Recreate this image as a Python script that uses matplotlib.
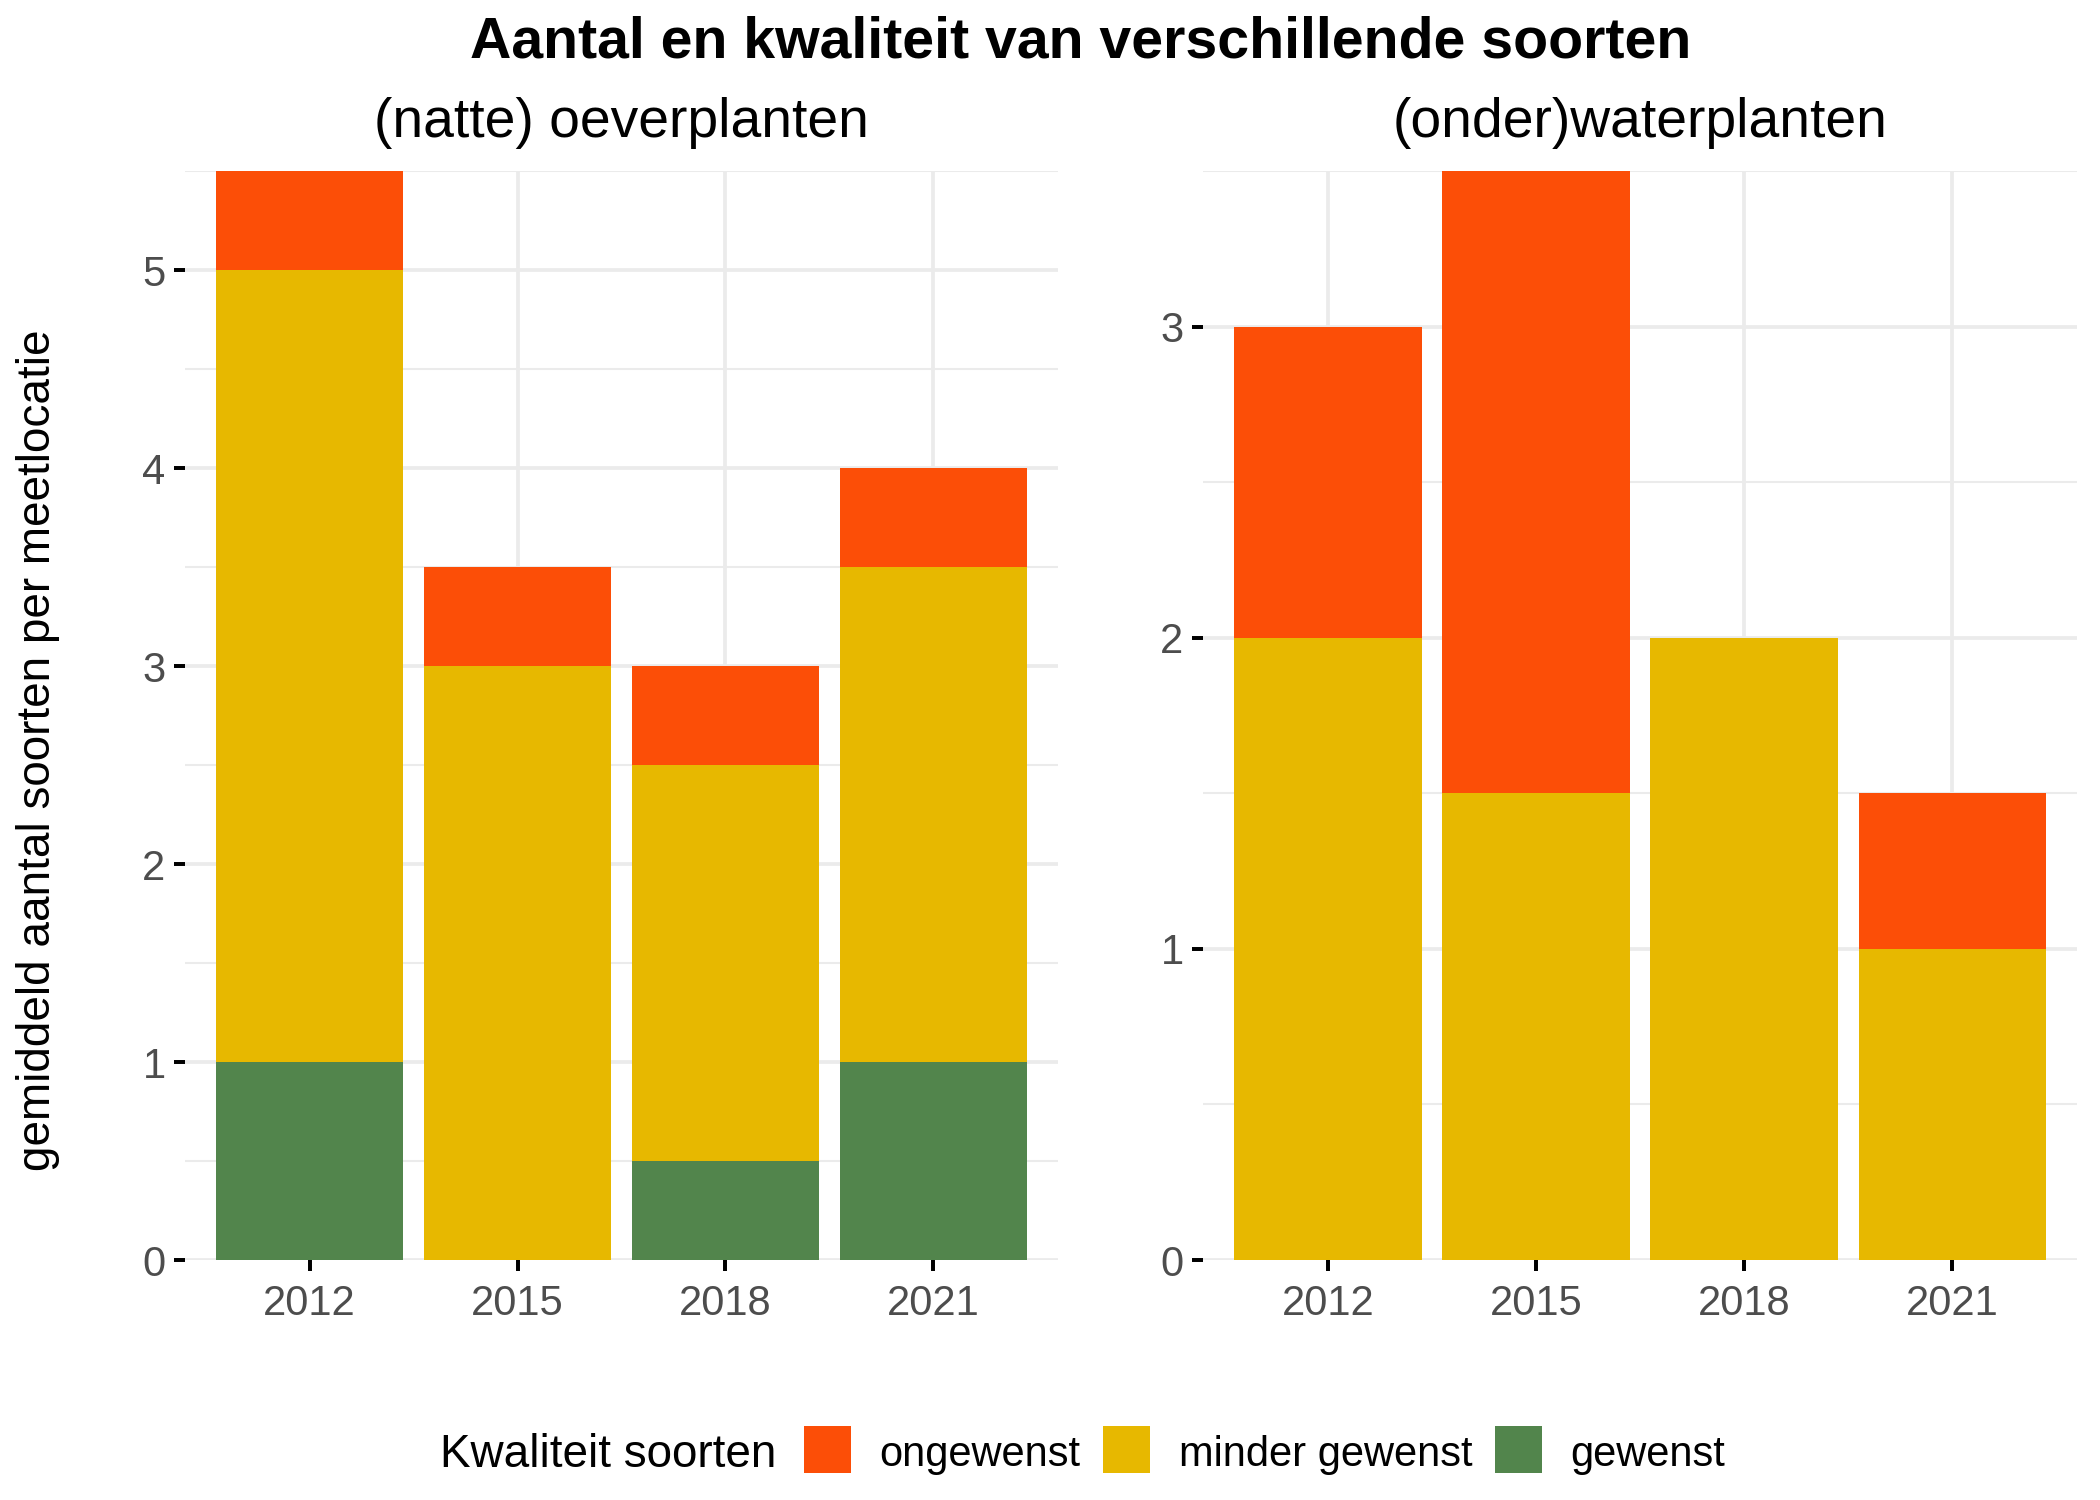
import matplotlib.pyplot as plt
import numpy as np
from matplotlib.patches import Rectangle

plt.rcParams['font.family'] = ['Liberation Sans', 'DejaVu Sans']

# data
years = ['2012', '2015', '2018', '2021']
categories = ['ongewenst', 'minder gewenst', 'gewenst']
colors = {'ongewenst': '#FC4E07', 'minder gewenst': '#E7B800', 'gewenst': '#52854C'}

panels = ['(natte) oeverplanten', '(onder)waterplanten']

oever_gewenst = [1.0, 0.0, 0.5, 1.0]
oever_minder = [4.0, 3.0, 2.0, 2.5]
oever_ongewenst = [0.5, 0.5, 0.5, 0.5]

water_gewenst = [0.0, 0.0, 0.0, 0.0]
water_minder = [2.0, 1.5, 2.0, 1.0]
water_ongewenst = [1.0, 2.0, 0.0, 0.5]

panel_data = [
    {'gewenst': oever_gewenst, 'minder gewenst': oever_minder, 'ongewenst': oever_ongewenst},
    {'gewenst': water_gewenst, 'minder gewenst': water_minder, 'ongewenst': water_ongewenst},
]

W, H = 2100, 1500
fig = plt.figure(figsize=(14, 10), dpi=150)

def fx(px):
    return px / W

def fy(py):
    return 1 - py / H

# axes positions in pixels (left, right, top, bottom)
boxes = [(185, 1058, 171, 1260), (1203, 2077, 171, 1260)]

grid_col = '#EBEBEB'

for i, (name, data) in enumerate(zip(panels, panel_data)):
    l, r, t, b = boxes[i]
    ax = fig.add_axes([fx(l), fy(b), (r - l) / W, (b - t) / H])
    x = np.arange(len(years))
    bottom = np.zeros(len(years))
    for cat in ['gewenst', 'minder gewenst', 'ongewenst']:
        vals = np.array(data[cat])
        ax.bar(x, vals, bottom=bottom, width=0.9, color=colors[cat], linewidth=0)
        bottom = bottom + vals
    top = bottom.max()
    ax.set_xlim(-0.6, len(years) - 0.4)
    ax.set_ylim(0, top)
    ax.set_xticks(x)
    ax.set_xticklabels(years)
    ax.set_yticks(np.arange(0, top + 0.01, 1))
    ax.set_yticks(np.arange(0.5, top + 0.01, 1), minor=True)
    ax.set_axisbelow(True)
    ax.grid(which='major', color=grid_col, linewidth=1.8)
    ax.grid(which='minor', axis='y', color=grid_col, linewidth=1.0)
    for s in ax.spines.values():
        s.set_visible(False)
    ax.tick_params(which='major', length=5.3, width=1.9, color='black',
                   labelcolor='#4D4D4D', labelsize=20, pad=4)
    ax.tick_params(axis='x', which='major', pad=6)
    ax.tick_params(which='minor', length=0)
    fig.text(fx((l + r) / 2), fy(137), name, ha='center', va='baseline', fontsize=26.5)

fig.text(fx(1081), fy(57), 'Aantal en kwaliteit van verschillende soorten',
         ha='center', va='baseline', fontsize=27.5, fontweight='bold')

fig.text(fx(38), fy(750), 'gemiddeld aantal soorten per meetlocatie',
         rotation=90, ha='center', va='center', fontsize=22)

# legend
fig.text(fx(440), fy(1467), 'Kwaliteit soorten', ha='left', va='baseline', fontsize=22)
key_x = [804, 1103, 1495]
label_x = [879, 1179, 1570]
for cat, kx, lx in zip(categories, key_x, label_x):
    fig.patches.append(Rectangle((fx(kx), fy(1473)), 47 / W, 47 / H,
                                 transform=fig.transFigure, facecolor=colors[cat],
                                 edgecolor='none'))
    fig.text(fx(lx), fy(1466), cat, ha='left', va='baseline', fontsize=20)

fig.savefig('out.png', dpi=150)
